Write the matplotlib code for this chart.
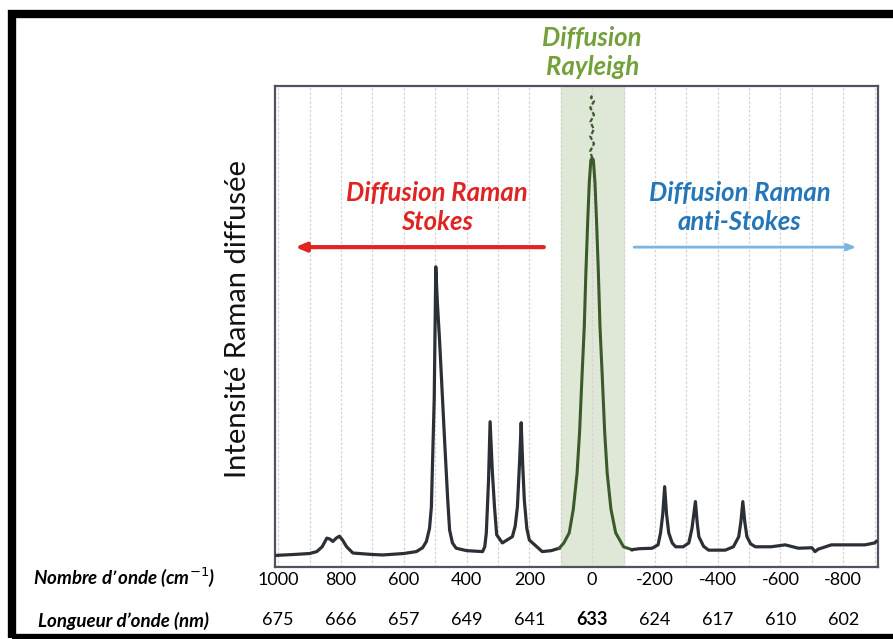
import matplotlib
matplotlib.use("Agg")
import matplotlib.pyplot as plt
from matplotlib.patches import Rectangle

# spectrum trace (wavenumber cm-1, intensity a.u.)
wn = [1010, 950, 900, 877, 860, 845, 835, 826, 815, 805, 795, 782, 762, 700, 667,
      600, 560, 540, 528, 518, 512, 503, 498, 493, 486, 470, 460, 454, 445, 433, 400,
      349, 342, 337, 330, 325, 318, 311, 304, 286, 254, 245, 238, 231, 226, 221, 216,
      208, 200, 159, 130, 105]
inten = [2.4, 2.6, 2.8, 3.2, 4.2, 6.0, 5.8, 5.3, 6.0, 6.4, 5.6, 4.2, 2.9, 2.6, 2.5,
         2.8, 3.2, 4.0, 5.3, 8.0, 12.5, 35.0, 62.4, 55.0, 47.2, 26.4, 14.0, 7.7, 5.0, 3.9, 3.4,
         3.2, 4.2, 7.1, 18.0, 30.2, 20.0, 12.5, 6.7, 5.0, 6.3, 8.5, 12.5, 22.0, 30.0, 21.0, 13.9,
         8.0, 5.6, 3.2, 3.4, 3.9]

ray_wn = [105, 90, 73, 60, 48, 40, 32, 25, 20, 14, 9, 4, 0, -4, -9, -14, -20, -25,
          -32, -40, -48, -60, -75, -100, -127]
ray_in = [3.9, 5.0, 7.1, 12.0, 19.5, 28.0, 40.0, 50.0, 61.0, 72.0, 80.0, 84.6, 85.0,
          84.6, 80.0, 72.0, 61.0, 50.0, 40.0, 28.0, 19.5, 12.0, 7.1, 4.2, 3.6]

# wavy top of the Rayleigh peak
top_x = [0, 6, -6, 6, -6, 6, -6, 6, -6, 4, 0]
top_y = [85, 86.5, 88, 89.5, 91, 92.5, 94, 95.5, 96.8, 97.6, 98]

anti_wn = [-127, -150, -191, -210, -218, -225, -231, -237, -244, -255, -266, -290,
           -308, -318, -329, -335, -340, -355, -371, -424, -450, -467, -474, -480,
           -486, -493, -505, -520, -570, -615, -657, -700, -710, -720, -762, -820,
           -869, -900, -905]
anti_in = [3.6, 3.8, 3.9, 4.6, 7.1, 11.0, 16.7, 11.0, 7.1, 5.0, 4.2, 4.2,
           5.0, 8.0, 13.6, 9.0, 6.3, 4.3, 3.5, 3.5, 4.2, 6.3, 9.5, 13.6,
           9.5, 6.3, 4.8, 4.2, 4.2, 4.6, 3.9, 4.0, 3.2, 3.7, 4.6, 4.6,
           4.6, 5.0, 5.3]

wn_ticks = [1000, 800, 600, 400, 200, 0, -200, -400, -600, -800]
nm_labels = ["675", "666", "657", "649", "641", "633", "624", "617", "610", "602"]

plt.rcParams['font.family'] = ['Lato', 'DejaVu Sans']

fig = plt.figure(figsize=(8.93, 6.39), dpi=100)
ax = fig.add_axes([0.308, 0.1127, 0.675, 0.7527])

# black picture frame
fig.patches.append(Rectangle((0.0134, 0.001), 1.2, 0.977, transform=fig.transFigure,
                             fill=False, edgecolor='black', linewidth=6))

ax.axvspan(-100, 100, color='#dfe8d6', zorder=0)
for g in range(-900, 1001, 100):
    ax.axvline(g, color='#d4d4d4', linestyle=(0, (2, 1.5)), linewidth=0.9, zorder=1)

line_col = '#2b3036'
ax.plot(wn, inten, color=line_col, linewidth=2.3, zorder=3)
ax.plot(ray_wn, ray_in, color='#3a5a2c', linewidth=2.2, zorder=3)
ax.plot(top_x, top_y, color='#3a5a2c', linewidth=1.6, linestyle=(0, (2, 1)), zorder=3)
ax.plot(anti_wn, anti_in, color=line_col, linewidth=2.3, zorder=3)

ax.set_xlim(1010, -910)
ax.set_ylim(0, 100)
ax.set_yticks([])
ax.set_xticks([])
for s in ax.spines.values():
    s.set_color('#555060')
    s.set_linewidth(1.6)

fig.text(0.2665, 0.5, "Intensité Raman diffusée", rotation=90, fontsize=21,
         ha='center', va='center', color='#111111')

# x tick rows
tr = ax.get_xaxis_transform()
for v, nm in zip(wn_ticks, nm_labels):
    ax.text(v, -0.027, str(v), transform=tr, ha='center', va='center', fontsize=13)
    ax.text(v, -0.11, nm, transform=tr, ha='center', va='center', fontsize=13,
            fontweight='bold' if nm == "633" else 'normal')
fig.text(0.139, 0.0955, "Nombre d’onde (cm$^{-1}$)", ha='center', va='center',
         fontsize=13.5, fontweight='bold', style='italic')
fig.text(0.138, 0.028, "Longueur d’onde (nm)", ha='center', va='center',
         fontsize=13.5, fontweight='bold', style='italic')

# annotations
ax.text(0, 1.07, "Diffusion\nRayleigh", transform=tr, ha='center', va='center',
        fontsize=18.5, fontweight='bold', style='italic', color='#74a03a', linespacing=1.25)
ax.text(495, 0.748, "Diffusion Raman\nStokes", transform=tr, ha='center', va='center',
        fontsize=18.5, fontweight='bold', style='italic', color='#e02424', linespacing=1.25)
ax.text(-470, 0.748, "Diffusion Raman\nanti-Stokes", transform=tr, ha='center', va='center',
        fontsize=18.5, fontweight='bold', style='italic', color='#2576b8', linespacing=1.25)
ax.annotate("", xy=(955, 0.665), xytext=(145, 0.665), xycoords=tr, textcoords=tr,
            arrowprops=dict(arrowstyle='-|>,head_length=0.6,head_width=0.25',
                            color='#e02424', lw=3))
ax.annotate("", xy=(-850, 0.665), xytext=(-125, 0.665), xycoords=tr, textcoords=tr,
            arrowprops=dict(arrowstyle='-|>,head_length=0.5,head_width=0.2',
                            color='#7ab4e0', lw=2))

fig.savefig("out.png", dpi=100, facecolor='white')
